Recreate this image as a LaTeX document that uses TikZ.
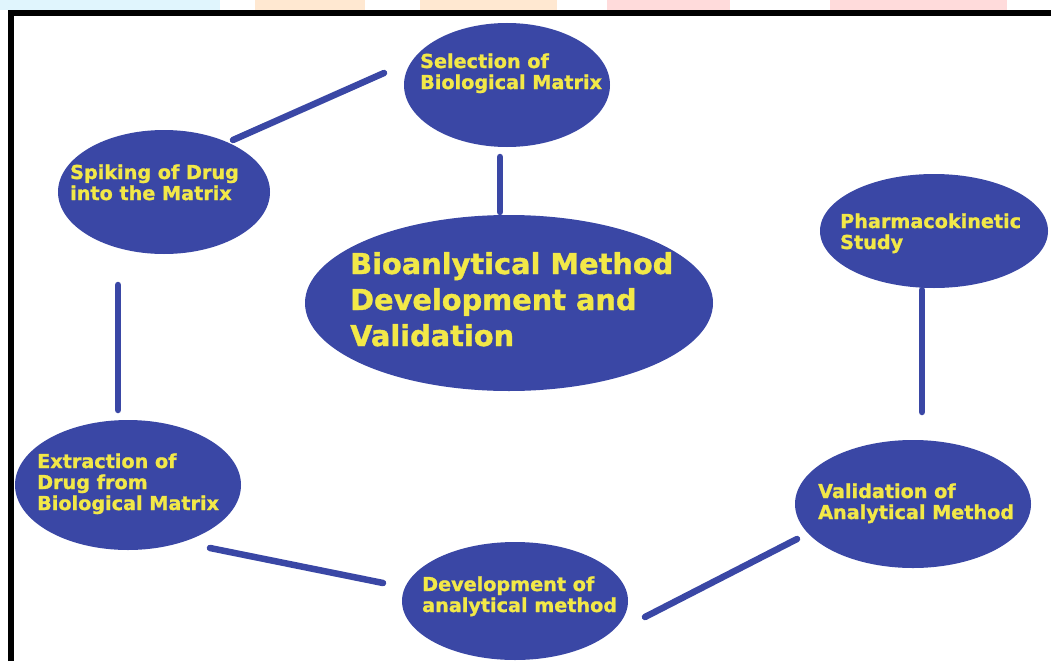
\documentclass[tikz,border=0pt]{standalone}
\usepackage{fontspec}
\setmainfont{DejaVu Sans}[BoldFeatures={FakeBold=1.2}]
\usetikzlibrary{shapes.geometric}
\definecolor{bblue}{RGB}{58,71,165}
\definecolor{tyellow}{RGB}{242,232,72}
\begin{document}
\begin{tikzpicture}[x=1pt,y=-1pt,
  bub/.style={ellipse, fill=bblue, inner sep=0pt, draw=none},
  lbl/.style={anchor=base west, inner sep=0pt, align=left, text=tyellow,
    font=\bfseries\fontsize{19.2}{21}\selectfont},
  biglbl/.style={anchor=base west, inner sep=0pt, align=left, text=tyellow,
    font=\bfseries\fontsize{28.8}{36}\selectfont},
  conn/.style={draw=bblue, line width=6.5pt, line cap=round}]
\useasboundingbox (0,0) rectangle (1051,661);
\fill[white] (0,0) rectangle (1051,661);
% faint watermark strip above the frame
\fill[cyan!12] (0,0) rectangle (220,10);
\fill[orange!18] (255,0) rectangle (365,10);
\fill[orange!18] (420,0) rectangle (557,10);
\fill[red!14] (607,0) rectangle (730,10);
\fill[red!14] (830,0) rectangle (1007,10);
% frame
\draw[black, line width=6pt] (11,661) -- (11,13.5) -- (1051,13.5);
% bubbles
\node[bub, minimum width=206pt, minimum height=124pt] (sel) at (507,85) {};
\node[bub, minimum width=212pt, minimum height=124pt] (spk) at (164,192) {};
\node[bub, minimum width=408pt, minimum height=176pt] (cen) at (509,303) {};
\node[bub, minimum width=228pt, minimum height=114pt] (pk) at (934,231) {};
\node[bub, minimum width=236pt, minimum height=128pt] (val) at (913,504) {};
\node[bub, minimum width=226pt, minimum height=118pt] (dev) at (515,601) {};
\node[bub, minimum width=226pt, minimum height=130pt] (ext) at (128,485) {};
% texts (anchored at the baseline of the last line)
\node[lbl] (selt) at (420,89) {Selection of\\Biological Matrix};
\node[lbl] (spkt) at (70,200) {Spiking of Drug\\into the Matrix};
\node[biglbl] (cent) at (350,346) {Bioanlytical Method\\Development and\\Validation};
\node[lbl] (pkt) at (840,249) {Pharmacokinetic\\Study};
\node[lbl] (valt) at (818,519) {Validation of\\Analytical Method};
\node[lbl] (devt) at (422,612) {Development of\\analytical method};
\node[lbl] (extt) at (37,510) {Extraction of\\Drug from\\Biological Matrix};
% connector ends
\coordinate (a1) at (384,73);  \coordinate (a2) at (233,140);
\coordinate (b1) at (500,157); \coordinate (b2) at (500,212);
\coordinate (c1) at (118,285); \coordinate (c2) at (118,410);
\coordinate (d1) at (922,290); \coordinate (d2) at (922,412);
\coordinate (e1) at (210,548); \coordinate (e2) at (383,583);
\coordinate (f1) at (645,617); \coordinate (f2) at (797,539);
\draw[conn] (a1) -- (a2);
\draw[conn] (b1) -- (b2);
\draw[conn] (c1) -- (c2);
\draw[conn] (d1) -- (d2);
\draw[conn] (e1) -- (e2);
\draw[conn] (f1) -- (f2);
\end{tikzpicture}
\end{document}
